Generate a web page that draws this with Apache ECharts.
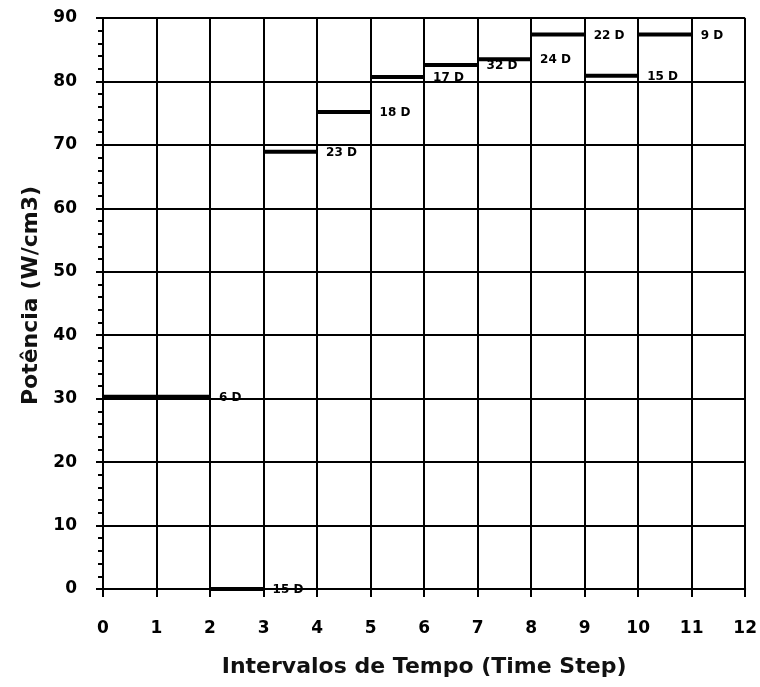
<!DOCTYPE html>
<html><head><meta charset="utf-8">
<script src="https://cdn.jsdelivr.net/npm/echarts@6/dist/echarts.min.js"></script>
<style>html,body{margin:0;padding:0;background:#fff}#c{width:760px;height:687px}</style>
</head><body><div id="c"></div>
<script>
const segStart = [0, 2, 3, 4, 5, 6, 7, 8, 9, 10];
const segEnd   = [2, 3, 4, 5, 6, 7, 8, 9, 10, 11];
const power    = [30.3, 0, 68.9, 75.2, 80.7, 82.6, 83.5, 87.4, 80.9, 87.4];
const segLabels = ['6 D', '15 D', '23 D', '18 D', '17 D', '32 D', '24 D', '22 D', '15 D', '9 D'];
const xTicks = [0,1,2,3,4,5,6,7,8,9,10,11,12];
const yTicks = [0,10,20,30,40,50,60,70,80,90];

const FONT = '"DejaVu Sans", "Liberation Sans", sans-serif';
const series = segStart.map((s, i) => ({
  type: 'line',
  data: [[s, power[i]], [segEnd[i], power[i]]],
  symbol: 'none',
  lineStyle: { color: '#000', width: 4 },
  z: 5,
  endLabel: {
    show: true,
    formatter: segLabels[i],
    color: '#000',
    fontWeight: 'bold',
    fontSize: 12,
    fontFamily: FONT,
    distance: 9,
    offset: [0, 1]
  }
}));

const chart = echarts.init(document.getElementById('c'));
chart.setOption({
  animation: false,
  grid: { left: 103, right: 14, top: 18, bottom: 98 },
  xAxis: {
    type: 'value', min: xTicks[0], max: xTicks[xTicks.length-1], interval: 1,
    name: 'Intervalos de Tempo (Time Step)', nameLocation: 'middle', nameGap: 67,
    nameTextStyle: { fontSize: 22, fontWeight: 'bold', color: '#111', fontFamily: FONT },
    axisLine: { lineStyle: { color: '#000', width: 2 } },
    axisTick: { show: true, length: 8, lineStyle: { color: '#000', width: 2 } },
    axisLabel: { fontSize: 17, fontWeight: 'bold', color: '#000', fontFamily: FONT, margin: 31 },
    splitLine: { show: true, lineStyle: { color: '#000', width: 2 } }
  },
  yAxis: {
    type: 'value', min: yTicks[0], max: yTicks[yTicks.length-1], interval: 10,
    name: 'Potência (W/cm3)', nameLocation: 'middle', nameGap: 59,
    nameTextStyle: { fontSize: 22, fontWeight: 'bold', color: '#111', fontFamily: FONT, padding: [0, 0, 0, 16] },
    axisLine: { lineStyle: { color: '#000', width: 2 } },
    axisTick: { show: true, length: 7, lineStyle: { color: '#000', width: 2 } },
    minorTick: { show: true, splitNumber: 5, length: 5, lineStyle: { color: '#000', width: 2 } },
    axisLabel: { fontSize: 17, fontWeight: 'bold', color: '#000', fontFamily: FONT, margin: 26 },
    splitLine: { show: true, lineStyle: { color: '#000', width: 2 } }
  },
  series: series
});
</script></body></html>
